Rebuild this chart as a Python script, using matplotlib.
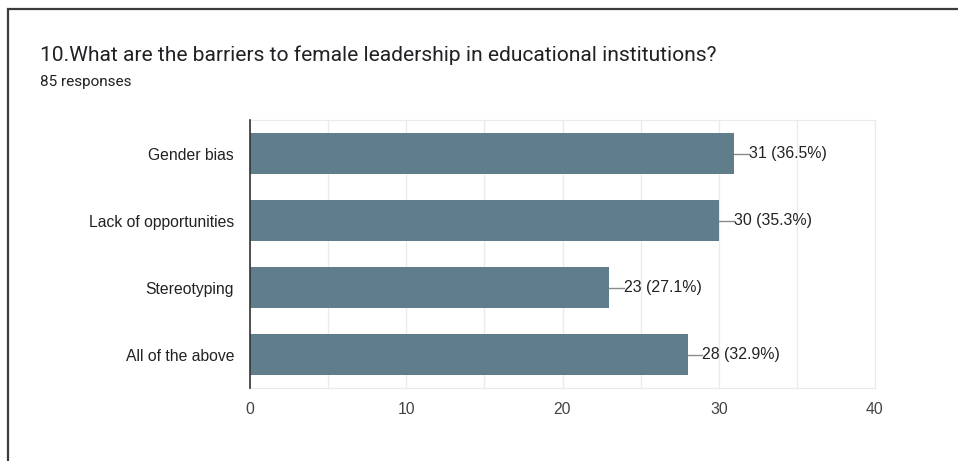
import matplotlib.pyplot as plt
from matplotlib.patches import Rectangle

plt.rcParams['font.family'] = ['Liberation Sans', 'DejaVu Sans']

# survey answers, top to bottom
categories = ['Gender bias', 'Lack of opportunities', 'Stereotyping', 'All of the above']
counts = [31, 30, 23, 28]
percents = ['36.5%', '35.3%', '27.1%', '32.9%']
xticks = [0, 10, 20, 30, 40]

W, H = 958, 461
fig = plt.figure(figsize=(W / 100, H / 100), dpi=100)

# card frame around the whole chart
fig.patches.append(Rectangle((8 / W, -0.1), 1.2, 1 - 9 / H + 0.1, transform=fig.transFigure,
                             fill=False, edgecolor='#3c3c3c', linewidth=1.6))

fig.text(40 / W, 1 - 55 / H, '10.What are the barriers to female leadership in educational institutions?',
         fontsize=15.1, color='#202124', va='center', family=['Roboto', 'DejaVu Sans'])
fig.text(40 / W, 1 - 82 / H, '85 responses', fontsize=11, color='#202124', va='center',
         family=['Roboto', 'DejaVu Sans'])

ax = fig.add_axes([250 / W, 1 - 388 / H, 625 / W, 268 / H])
ypos = list(range(len(categories)))
ax.barh(ypos, counts, height=0.62, color='#607d8b', zorder=3)

for y, c, p in zip(ypos, counts, percents):
    ax.plot([c, c + 0.95], [y, y], color='#8a8a8a', linewidth=1, zorder=3)
    ax.text(c + 0.95, y, f'{c} ({p})', va='center', ha='left', fontsize=11.4, color='#222222')

ax.set_xlim(0, 40)
ax.set_ylim(3.5, -0.5)
ax.set_yticks(ypos)
ax.set_yticklabels(categories)
ax.set_xticks(xticks)
ax.set_xticks(range(0, 41, 5), minor=True)
ax.tick_params(axis='both', which='both', length=0, labelsize=11.3, labelcolor='#444444')
ax.tick_params(axis='y', pad=11.5, labelcolor='#222222')
ax.tick_params(axis='x', pad=10)
ax.grid(axis='x', which='both', color='#ebebeb', linewidth=1, zorder=0)

for side in ['top', 'right', 'bottom']:
    ax.spines[side].set_color('#ebebeb')
ax.spines['left'].set_color('#333333')
ax.spines['left'].set_linewidth(1.2)
ax.spines['left'].set_zorder(4)

fig.savefig('out.png', dpi=100)
